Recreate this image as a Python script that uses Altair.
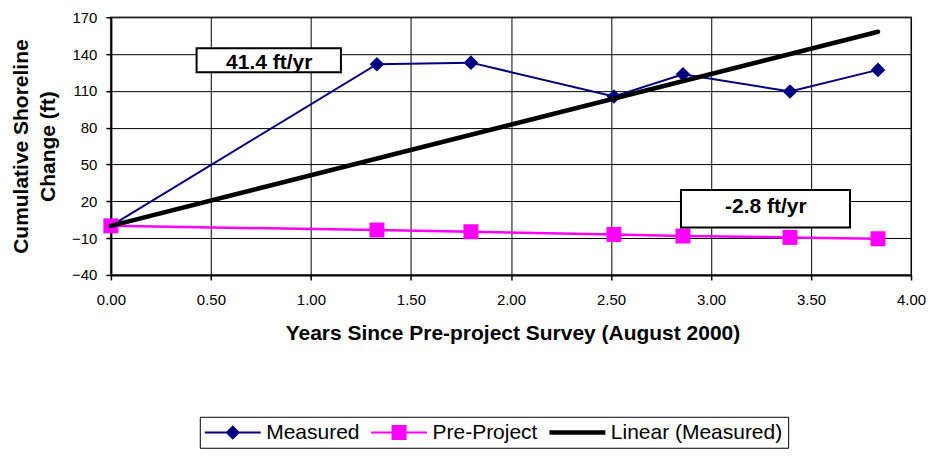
import altair as alt
import pandas as pd

# ---- data ----
years = [0.0, 1.33, 1.80, 2.515, 2.86, 3.395, 3.835]
measured = [0.0, 131.7, 133.0, 105.4, 123.5, 109.5, 127.1]
pre_project = [0.0, -3.4, -4.8, -7.0, -8.3, -9.4, -10.5]
trend_years = [0.0, 3.835]
trend_values = [0.0, 158.2]

series_names = ["Measured", "Pre-Project", "Linear (Measured)"]
series_colors = ["#000080", "#FF00FF", "#000000"]

x_ticks = [0, 0.5, 1.0, 1.5, 2.0, 2.5, 3.0, 3.5, 4.0]
y_ticks = [-40, -10, 20, 50, 80, 110, 140, 170]

note_text = ["41.4 ft/yr", "-2.8 ft/yr"]
note_x = [0.7915, 3.274]
note_y = [133.0, 15.6]
box_x0 = [0.4285, 2.85]
box_x1 = [1.15, 3.695]
box_y0 = [125.2, -1.3]
box_y1 = [144.8, 29.2]

FONT = "Liberation Sans"

meas_df = pd.DataFrame({"year": years, "value": measured, "series": "Measured"})
pre_df = pd.DataFrame({"year": years, "value": pre_project, "series": "Pre-Project"})
trend_df = pd.DataFrame({"year": trend_years, "value": trend_values, "series": "Linear (Measured)"})
notes_df = pd.DataFrame({"text": note_text, "x": note_x, "y": note_y,
                         "x0": box_x0, "x1": box_x1, "y0": box_y0, "y1": box_y1})

# legend symbol paths (unit coordinates)
P_MEAS = "M-2.8,-0.1L2.8,-0.1L2.8,0.1L-2.8,0.1Z M0,-0.72L0.72,0L0,0.72L-0.72,0Z"
P_PRE = "M-2.8,-0.1L2.8,-0.1L2.8,0.1L-2.8,0.1Z M-0.75,-0.75L0.75,-0.75L0.75,0.75L-0.75,0.75Z"
P_LIN = "M-2.8,-0.22L2.8,-0.22L2.8,0.22L-2.8,0.22Z"

shape_expr = (
    f"datum.value === 'Measured' ? '{P_MEAS}' : "
    f"(datum.value === 'Pre-Project' ? '{P_PRE}' : '{P_LIN}')"
)

legend = alt.Legend(
    title=None,
    orient="none",
    legendX=89,
    legendY=400,
    direction="horizontal",
    fillColor="white",
    padding=5,
    labelFont=FONT,
    labelFontSize=21,
    labelColor="black",
    labelLimit=400,
    labelOffset=23,
    symbolOffset=17.5,
    symbolSize=400,
    symbolStrokeWidth=0,
    symbolOpacity=1,
    symbolType={"expr": shape_expr},
    columnPadding=11.5,
)

x_enc = alt.X(
    "year:Q",
    scale=alt.Scale(domain=[0, 4], nice=False, zero=False),
    axis=alt.Axis(
        values=x_ticks, tickCount=20, format=".2f",
        title="Years Since Pre-project Survey (August 2000)",
        labelFlush=False, labelOverlap=False, labelPadding=13, titleX=402, titleY=65,
        titleBaseline="alphabetic", titleAlign="center",
    ),
)
y_enc = alt.Y(
    "value:Q",
    scale=alt.Scale(domain=[-40, 170], nice=False, zero=False),
    axis=alt.Axis(
        values=y_ticks, tickCount=20, format="d", title=["Cumulative Shoreline", "Change (ft)"],
        labelOverlap=False, labelPadding=9, titleX=-83, titleY=129, titleAngle=270,
        titleBaseline="alphabetic", titleAlign="center", titleLineHeight=27,
    ),
)
color_enc = alt.Color("series:N", scale=alt.Scale(domain=series_names, range=series_colors), legend=legend)

meas_line = alt.Chart(meas_df).mark_line(strokeWidth=2).encode(x=x_enc, y=y_enc, color=color_enc)
pre_line = alt.Chart(pre_df).mark_line(strokeWidth=2.5).encode(x=x_enc, y=y_enc, color=color_enc)
meas_pts = alt.Chart(meas_df).mark_point(shape="diamond", filled=True, size=215, opacity=1).encode(
    x=x_enc, y=y_enc, color=color_enc)
pre_pts = alt.Chart(pre_df).mark_point(shape="square", filled=True, size=225, opacity=1).encode(
    x=x_enc, y=y_enc, color=color_enc)
trend = alt.Chart(trend_df).mark_line(strokeWidth=4.5, strokeCap="round").encode(
    x=x_enc, y=y_enc, color=color_enc)

boxes = alt.Chart(notes_df).mark_rect(fill="white", stroke="black", strokeWidth=2).encode(
    x="x0:Q", x2="x1:Q", y="y0:Q", y2="y1:Q")
texts = alt.Chart(notes_df).mark_text(
    font=FONT, fontSize=21, fontWeight="bold", color="black", align="center", baseline="middle"
).encode(x="x:Q", y="y:Q", text="text:N")

chart = (
    alt.layer(meas_line, pre_line, meas_pts, pre_pts, trend, boxes, texts)
    .properties(
        width=801, height=258,
        autosize=alt.AutoSizeParams(type="none"),
        padding={"left": 103, "top": 9, "right": 17, "bottom": 175},
        background="white",
    )
    .configure_view(stroke="#808080", strokeWidth=2)
    .configure_legend(strokeColor="black", strokeWidth=1)
    .configure_axis(
        labelFont=FONT, labelFontSize=15, labelColor="black",
        titleFont=FONT, titleFontSize=21, titleFontWeight="bold", titleColor="black",
        grid=True, gridColor="black", gridWidth=1, gridOpacity=1,
        domainColor="black", domainWidth=2,
        tickColor="black", tickSize=5, tickWidth=1.5,
    )
)

chart.save("out.html", embed_options={"renderer": "svg", "actions": False})
